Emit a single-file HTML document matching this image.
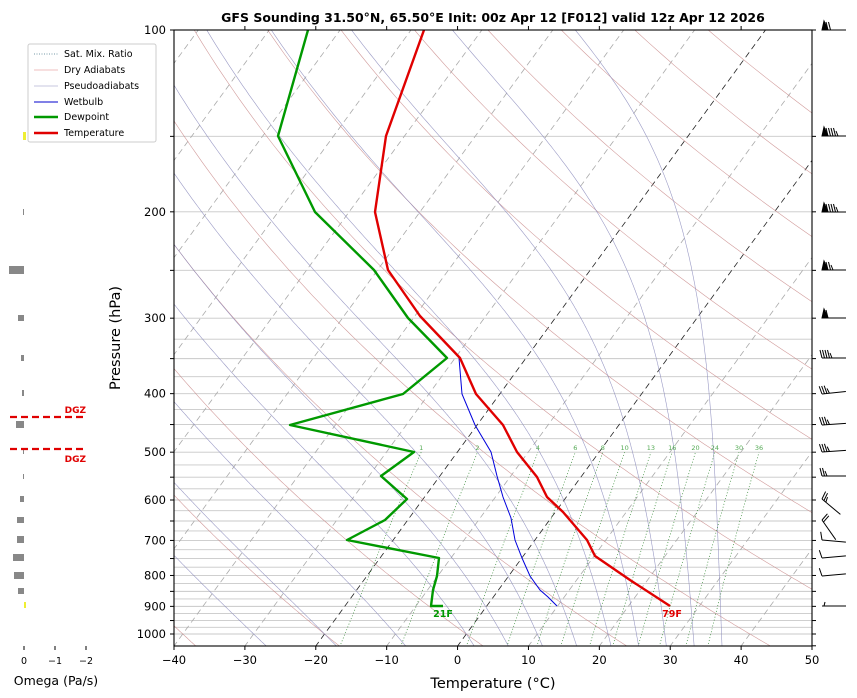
<!DOCTYPE html>
<html><head><meta charset="utf-8"><style>
body{margin:0;background:#fff;}
svg{display:block;font-family:"DejaVu Sans","Liberation Sans",sans-serif;}
</style></head><body>
<svg id="s" width="857" height="698" viewBox="0 0 857 698" xmlns="http://www.w3.org/2000/svg">
<defs><clipPath id="c"><rect x="174" y="30" width="638" height="616"/></clipPath></defs>
<g id="bg" clip-path="url(#c)"></g>
<g id="fg" clip-path="url(#c)"></g>
<g id="ax"></g>
<text x="493" y="22" text-anchor="middle" font-size="12.5" font-weight="bold">GFS Sounding 31.50°N, 65.50°E Init: 00z Apr 12 [F012] valid 12z Apr 12 2026</text>
<text x="493" y="688" text-anchor="middle" font-size="14.5">Temperature (°C)</text>
<text transform="translate(120,338) rotate(-90)" text-anchor="middle" font-size="14.5">Pressure (hPa)</text>
<rect x="28" y="44" width="128" height="98" fill="#fff" stroke="#ccc" rx="2"/>
<g font-size="9.5">
<line x1="34" x2="58" y1="54" y2="54" stroke="#4a7a8a" stroke-dasharray="1,1.5" stroke-width="0.8"/><text x="64" y="57">Sat. Mix. Ratio</text>
<line x1="34" x2="58" y1="70" y2="70" stroke="#e08080" stroke-width="0.6"/><text x="64" y="73">Dry Adiabats</text>
<line x1="34" x2="58" y1="86" y2="86" stroke="#9090c0" stroke-width="0.6"/><text x="64" y="89">Pseudoadiabats</text>
<line x1="34" x2="58" y1="102" y2="102" stroke="#0000cc" stroke-width="1"/><text x="64" y="105">Wetbulb</text>
<line x1="34" x2="58" y1="117" y2="117" stroke="#009900" stroke-width="2.5"/><text x="64" y="120">Dewpoint</text>
<line x1="34" x2="58" y1="133" y2="133" stroke="#e00000" stroke-width="2.5"/><text x="64" y="136">Temperature</text>
</g>
<g fill="#888">
<rect x="23" y="132" width="3" height="8" fill="#eeee33"/>
<rect x="23" y="209" width="1" height="6"/>
<rect x="9" y="266" width="15" height="8"/>
<rect x="18" y="315" width="6" height="6"/>
<rect x="21" y="355" width="3" height="6"/>
<rect x="22" y="390" width="2" height="6"/>
<rect x="16" y="421" width="8" height="7"/>
<rect x="23" y="449" width="1" height="5"/>
<rect x="23" y="474" width="1" height="5"/>
<rect x="20" y="496" width="4" height="6"/>
<rect x="17" y="517" width="7" height="6"/>
<rect x="17" y="536" width="7" height="7"/>
<rect x="13" y="554" width="11" height="7"/>
<rect x="14" y="572" width="10" height="7"/>
<rect x="18" y="588" width="6" height="6"/>
<rect x="24" y="602" width="2" height="6" fill="#eeee33"/>
</g>
<line x1="10" x2="84" y1="417" y2="417" stroke="#e00000" stroke-width="2.2" stroke-dasharray="7,4"/>
<line x1="10" x2="84" y1="449" y2="449" stroke="#e00000" stroke-width="2.2" stroke-dasharray="7,4"/>
<text x="86" y="413" text-anchor="end" font-size="9" font-weight="bold" fill="#e00000">DGZ</text>
<text x="86" y="462" text-anchor="end" font-size="9" font-weight="bold" fill="#e00000">DGZ</text>
<g font-size="9.5" text-anchor="middle">
<line x1="24" x2="24" y1="646" y2="650" stroke="#000"/><text x="24" y="664">0</text>
<line x1="55" x2="55" y1="646" y2="650" stroke="#000"/><text x="55" y="664">−1</text>
<line x1="86" x2="86" y1="646" y2="650" stroke="#000"/><text x="86" y="664">−2</text>
</g>
<text x="56" y="685" text-anchor="middle" font-size="12.5">Omega (Pa/s)</text>
<g id="barbs" stroke="#000" fill="#000" stroke-width="1"></g>
</svg>
<script>
const NS="http://www.w3.org/2000/svg";
function Y(p){return 30+604*Math.log10(p/100);}
function X(T,p){return 174+(T+40)*7.089+(646-Y(p))*0.73;}
function el(par,tag,a,txt){const e=document.createElementNS(NS,tag);for(const k in a)e.setAttribute(k,a[k]);if(txt!==undefined)e.textContent=txt;document.getElementById(par).appendChild(e);return e;}
function path(par,pts,a){let d=pts.map((q,i)=>(i?'L':'M')+q[0].toFixed(1)+' '+q[1].toFixed(1)).join('');a.d=d;a.fill='none';el(par,'path',a);}
const P=[];for(let p=1050;p>=100;p-=5)P.push(p);
for(let p=100;p<=1000;p+=(p<300?50:25))el('bg','line',{x1:174,x2:812,y1:Y(p),y2:Y(p),stroke:'#c8c8c8','stroke-width':0.9});
for(let T=-140;T<=50;T+=10){let st=(T==0||T==-20)?'#222':'#aaa';path('bg',[[X(T,1050),Y(1050)],[X(T,100),Y(100)]],{stroke:st,'stroke-width':0.8,'stroke-dasharray':'6,4'});}
for(let t0=-40;t0<=200;t0+=20){const th=t0+273.15;path('bg',P.map(p=>[X(th*Math.pow(p/1000,0.2857)-273.15,p),Y(p)]),{stroke:'#c98a8a','stroke-width':0.6,opacity:0.85});}
function es(T){return 6.112*Math.exp(17.67*T/(T+243.5));}
function step(T,p,dp){const Rd=287.04,Cp=1005.7,Lv=2.501e6,eps=0.622;const e=es(T-273.15),rs=eps*e/(p-e);const dTdp=(Rd*T+Lv*rs)/(Cp+Lv*Lv*rs*eps/(Rd*T*T))/p;return T+dTdp*dp;}
function moist(t0){let down=[];let pp=1000,tt=t0+273.15;while(pp<1050){tt=step(tt,pp,5);pp+=5;down.push([tt,pp]);}
 let pts=down.reverse().map(q=>[X(q[0]-273.15,q[1]),Y(q[1])]);pp=1000;tt=t0+273.15;pts.push([X(tt-273.15,pp),Y(pp)]);
 while(pp>100){tt=step(tt,pp,-2);pp-=2;pts.push([X(tt-273.15,pp),Y(pp)]);}
 return pts;}
const mt=[-30,-20,-10,0,5,10,15,20,24,28,32,36];
for(const t of mt)path('bg',moist(t),{stroke:'#8888bb','stroke-width':0.6,opacity:0.85});
const W=[1,2,4,6,8,10,13,16,20,24,30,36];
for(const w of W){const pts=[];for(let p=1050;p>=500;p-=10){const e=p*w/(622+w);const l=Math.log(e/6.112);const T=243.5*l/(17.67-l);pts.push([X(T,p),Y(p)]);}
 path('bg',pts,{stroke:'#338833','stroke-width':0.7,'stroke-dasharray':'1,2'});
 const e=500*w/(622+w),l=Math.log(e/6.112),T=243.5*l/(17.67-l);el('fg','text',{x:X(T,500),y:Y(500)-2,'font-size':6.5,fill:'#55aa55','text-anchor':'middle'},w);}
path('fg',[[557,606],[548,597],[540,590],[530,576],[522,558],[515,540],[511,518],[503,497],[497,476],[491,452],[475,425],[462,394],[459,358]],{stroke:'#0000dd','stroke-width':1});
path('fg',[[443,606],[431,606],[433,590],[437,576],[439,558],[347,540],[385,520],[407,499],[381,476],[414,452],[290,425],[403,394],[447,358],[408,318],[374,270],[315,212],[278,136],[308,30]],{stroke:'#009900','stroke-width':2.4,'stroke-linejoin':'round'});
path('fg',[[670,606],[630,580],[595,556],[587,540],[563,512],[547,497],[537,477],[517,452],[503,425],[476,394],[460,358],[420,316],[388,270],[375,212],[386,136],[424,30]],{stroke:'#e00000','stroke-width':2.4,'stroke-linejoin':'round'});
el('fg','text',{x:443,y:617,'font-size':9.5,'font-weight':'bold',fill:'#009900','text-anchor':'middle'},'21F');
el('fg','text',{x:672,y:617,'font-size':9.5,'font-weight':'bold',fill:'#e00000','text-anchor':'middle'},'79F');
el('ax','rect',{x:174,y:30,width:638,height:616,fill:'none',stroke:'#000','stroke-width':1.1});
for(let T=-40;T<=50;T+=10){const x=174+(T+40)*7.089;el('ax','line',{x1:x,x2:x,y1:646,y2:650,stroke:'#000'});el('ax','text',{x:x,y:664,'font-size':11.5,'text-anchor':'middle'},T<0?'−'+(-T):T);}
for(let T=-30;T<=40;T+=10){const x=174+(T+40)*7.089;el('ax','line',{x1:x,x2:x,y1:30,y2:26,stroke:'#000'});}
for(let p=100;p<=1000;p+=50){const y=Y(p);el('ax','line',{x1:170,x2:174,y1:y,y2:y,stroke:'#000'});el('ax','line',{x1:812,x2:816,y1:y,y2:y,stroke:'#000'});if(p%100==0)el('ax','text',{x:166,y:y+4,'font-size':11.5,'text-anchor':'end'},p);}
el('ax','line',{x1:812,x2:816,y1:Y(1050)-1,y2:Y(1050)-1,stroke:'#000'});
function barb(y,pen,full,ang){const g=el('barbs','g',{transform:`rotate(${ang||0} 822 ${y})`});let x=822;
 const s=document.createElementNS(NS,'line');s.setAttribute('x1',822);s.setAttribute('x2',846);s.setAttribute('y1',y);s.setAttribute('y2',y);g.appendChild(s);
 for(let i=0;i<pen;i++){const t=document.createElementNS(NS,'polygon');t.setAttribute('points',`${x},${y} ${x+2},${y-9} ${x+6},${y}`);g.appendChild(t);x+=6;}
 for(let i=0;i<full;i++){const l=document.createElementNS(NS,'line');l.setAttribute('x1',x);l.setAttribute('y1',y);l.setAttribute('x2',x-2);l.setAttribute('y2',y-(i==full-1&&full>2?5:8));g.appendChild(l);x+=2.5;}}
barb(30,1,2);barb(136,1,5);barb(212,1,5);barb(270,1,3);barb(318,1,1);
barb(358,0,5);barb(394,0,4,-6);barb(425,0,4,-4);barb(452,0,4,-4);barb(476,0,3);
barb(499,0,3,40);barb(520,0,2,55);barb(540,0,1,5);barb(558,0,1,-5);barb(576,0,1,-5);barb(606,0,0);
el('barbs','line',{x1:824,x2:825,y1:606,y2:602});
</script>
</body></html>
